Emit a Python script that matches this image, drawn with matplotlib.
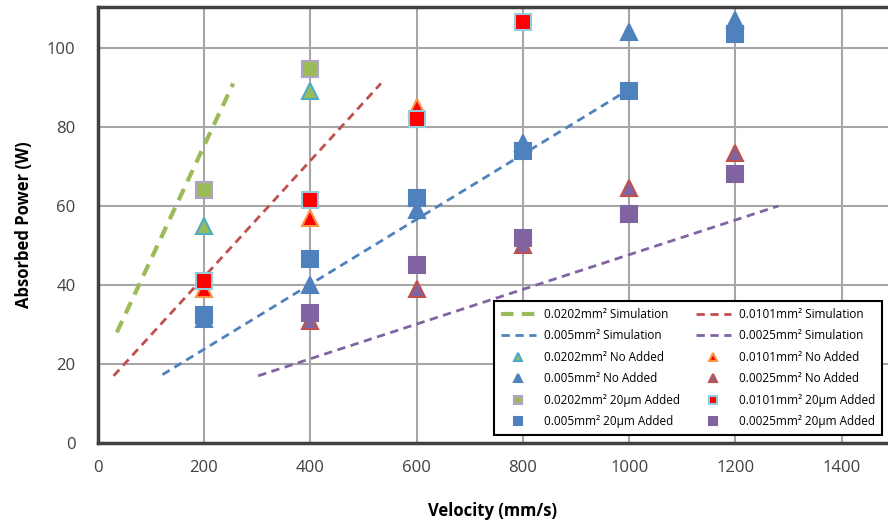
import matplotlib.pyplot as plt

# simulation lines (velocity, power)
sim_0202_x = [36, 255]
sim_0202_y = [28, 91]
sim_0101_x = [30, 533]
sim_0101_y = [17, 91]
sim_005_x = [122, 1000]
sim_005_y = [17.3, 89.5]
sim_0025_x = [302, 1281]
sim_0025_y = [17, 60]

# experimental points
no_0202_x = [200, 400]
no_0202_y = [55, 89]
no_0101_x = [200, 400, 600]
no_0101_y = [39, 57, 85]
no_005_x = [200, 400, 600, 800, 1000, 1200]
no_005_y = [31.5, 40, 59, 76, 104, 107]
no_0025_x = [400, 600, 800, 1000, 1200]
no_0025_y = [31, 39, 50, 64.5, 73.5]

add_0202_x = [200, 400]
add_0202_y = [64, 94.7]
add_0101_x = [200, 400, 600, 800]
add_0101_y = [41, 61.5, 82, 106.5]
add_005_x = [200, 400, 600, 800, 1000, 1200]
add_005_y = [32.5, 46.5, 62, 74, 89, 103.5]
add_0025_x = [400, 600, 800, 1000, 1200]
add_0025_y = [33, 45, 52, 58, 68]

green = '#9BBB59'
red = '#C0504D'
blue = '#4F81BD'
purple = '#8064A2'

plt.rcParams['font.family'] = ['Open Sans', 'DejaVu Sans']

fig = plt.figure(figsize=(8.88, 5.23), dpi=100)
ax = fig.add_axes([0.11, 0.153, 0.89, 0.834])

l1, = ax.plot(sim_0202_x, sim_0202_y, '--', color=green, lw=3, dashes=(3, 2), label='0.0202mm² Simulation')
l2, = ax.plot(sim_0101_x, sim_0101_y, '--', color=red, lw=2, dashes=(3, 2), label='0.0101mm² Simulation')
l3, = ax.plot(sim_005_x, sim_005_y, '--', color=blue, lw=2, dashes=(3, 2), label='0.005mm² Simulation')
l4, = ax.plot(sim_0025_x, sim_0025_y, '--', color=purple, lw=2, dashes=(3, 2), label='0.0025mm² Simulation')

ms = 11
t1, = ax.plot(no_0202_x, no_0202_y, '^', ms=ms, mfc=green, mec='#4BACC6', mew=1.5, ls='none', label='0.0202mm² No Added')
t2, = ax.plot(no_0101_x, no_0101_y, '^', ms=ms, mfc='#FF0000', mec='#F79646', mew=1.5, ls='none', label='0.0101mm² No Added')
t3, = ax.plot(no_005_x, no_005_y, '^', ms=ms, mfc=blue, mec=blue, mew=1.5, ls='none', label='0.005mm² No Added')
t4, = ax.plot(no_0025_x, no_0025_y, '^', ms=ms, mfc=purple, mec=red, mew=1.5, ls='none', label='0.0025mm² No Added')

s1, = ax.plot(add_0202_x, add_0202_y, 's', ms=ms, mfc=green, mec='#B3A2C7', mew=1.5, ls='none', label='0.0202mm² 20µm Added')
s2, = ax.plot(add_0101_x, add_0101_y, 's', ms=ms, mfc='#FF0000', mec='#93CDDD', mew=1.5, ls='none', label='0.0101mm² 20µm Added')
s3, = ax.plot(add_005_x, add_005_y, 's', ms=ms, mfc=blue, mec=blue, mew=1.5, ls='none', label='0.005mm² 20µm Added')
s4, = ax.plot(add_0025_x, add_0025_y, 's', ms=ms, mfc=purple, mec=purple, mew=1.5, ls='none', label='0.0025mm² 20µm Added')

ax.set_xlim(0, 1487)
ax.set_ylim(0, 110.4)
ax.set_xticks(range(0, 1401, 200))
ax.set_yticks(range(0, 101, 20))
ax.grid(True, color='#A6A6A6', lw=1.5)
ax.set_axisbelow(True)
ax.tick_params(length=0, labelsize=12, colors='#404040')
ax.tick_params(axis='x', pad=12)
ax.tick_params(axis='y', pad=16)
for s in ['left', 'bottom', 'top']:
    ax.spines[s].set_color('#404040')
    ax.spines[s].set_linewidth(2.5)
ax.spines['right'].set_visible(False)

ax.set_xlabel('Velocity (mm/s)', fontsize=12, fontweight='bold', labelpad=19)
ax.set_ylabel('Absorbed Power (W)', fontsize=12, fontweight='bold', labelpad=10)

handles = [l1, l3, t1, t3, s1, s3, l2, l4, t2, t4, s2, s4]
leg = ax.legend(handles=handles, ncol=2, fontsize=8.5, loc='lower right',
                bbox_to_anchor=(1.0, 0.005), fancybox=False, framealpha=1,
                edgecolor='black', handlelength=3, markerscale=0.55,
                columnspacing=1.3, labelspacing=0.72, borderpad=0.55,
                handletextpad=0.7)
leg.get_frame().set_linewidth(1.5)

fig.savefig('out.png', dpi=100)
